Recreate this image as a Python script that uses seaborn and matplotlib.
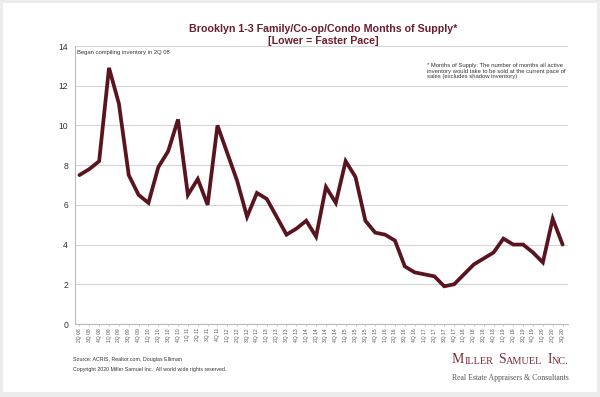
import matplotlib
matplotlib.use("Agg")
import matplotlib.pyplot as plt
import matplotlib.patches as mpatches
import seaborn as sns
import pandas as pd

# ─── data ───────────────────────────────────────────────────────────────────
quarters = [
    "2Q 08", "3Q 08", "4Q 08",
    "1Q 09", "2Q 09", "3Q 09", "4Q 09",
    "1Q 10", "2Q 10", "3Q 10", "4Q 10",
    "1Q 11", "2Q 11", "3Q 11", "4Q 11",
    "1Q 12", "2Q 12", "3Q 12", "4Q 12",
    "1Q 13", "2Q 13", "3Q 13", "4Q 13",
    "1Q 14", "2Q 14", "3Q 14", "4Q 14",
    "1Q 15", "2Q 15", "3Q 15", "4Q 15",
    "1Q 16", "2Q 16", "3Q 16", "4Q 16",
    "1Q 17", "2Q 17", "3Q 17", "4Q 17",
    "1Q 18", "2Q 18", "3Q 18", "4Q 18",
    "1Q 19", "2Q 19", "3Q 19", "4Q 19",
    "1Q 20", "2Q 20", "3Q 20",
]
months_supply = [
    7.5, 7.8, 8.2,
    12.9, 11.1, 7.5, 6.5,
    6.1, 7.9, 8.7, 10.3,
    6.5, 7.3, 6.0, 10.0,
    8.6, 7.2, 5.4, 6.6,
    6.3, 5.4, 4.5, 4.8,
    5.2, 4.4, 6.9, 6.1,
    8.2, 7.4, 5.2, 4.6,
    4.5, 4.2, 2.9, 2.6,
    2.5, 2.4, 1.9, 2.0,
    2.5, 3.0, 3.3, 3.6,
    4.3, 4.0, 4.0, 3.6,
    3.1, 5.3, 4.0,
]
y_ticks = [0, 2, 4, 6, 8, 10, 12, 14]

df = pd.DataFrame({"pos": range(len(quarters)), "supply": months_supply})

# ─── colours ────────────────────────────────────────────────────────────────
LINE_C = "#5A1420"
TITLE_C = "#6B1E2C"
LOGO_C = "#7A2A36"
GRID_C = "#D6D6D6"
TEXT_C = "#333333"
BORDER = "#ECECEC"

sns.set_style("white")
plt.rcParams["font.family"] = ["Liberation Sans", "DejaVu Sans"]

fig = plt.figure(figsize=(6, 3.97), dpi=100)
fig.patch.set_facecolor(BORDER)
fig.add_artist(mpatches.Rectangle((3 / 600, 1 - 392 / 397), 594 / 600, 389 / 397,
                                  transform=fig.transFigure, facecolor="white",
                                  edgecolor="none", zorder=0))

ax = fig.add_axes([75 / 600, 1 - 324 / 397, 493 / 600, 278 / 397])
ax.set_facecolor("white")

sns.lineplot(data=df, x="pos", y="supply", ax=ax, color=LINE_C, linewidth=2.7,
             solid_joinstyle="miter", zorder=3)

ax.set_xlim(-0.45, len(quarters) - 0.45)
ax.set_ylim(0, 14)
ax.set_yticks(y_ticks)
ax.set_xticks(range(len(quarters)))
ax.set_xticklabels(quarters, rotation=90, fontsize=3.6, color="#555555")
ax.tick_params(axis="y", labelsize=6.2, colors=TEXT_C, length=0, pad=5)
ax.tick_params(axis="x", length=1.5, width=0.4, color="#999999", pad=1.5, bottom=True)
ax.set_xlabel("")
ax.set_ylabel("")
ax.grid(axis="y", color=GRID_C, linewidth=0.8)
ax.set_axisbelow(True)
for side in ["top", "right"]:
    ax.spines[side].set_visible(False)
for side in ["left", "bottom"]:
    ax.spines[side].set_color("#BBBBBB")
    ax.spines[side].set_linewidth(0.8)

# annotations inside the plot
ax.text(0.004, 0.985, "Began compiling inventory in 2Q 08", transform=ax.transAxes,
        fontsize=4.2, color=TEXT_C, va="top", ha="left")
fig.text(427 / 600, 1 - 63 / 397,
         "* Months of Supply: The number of months all active\n"
         "inventory would take to be sold at the current pace of\n"
         "sales (excludes shadow inventory)",
         fontsize=4.25, color=TEXT_C, va="top", ha="left", linespacing=1.15)

# title
fig.text(323 / 600, 1 - 29 / 397, "Brooklyn 1-3 Family/Co-op/Condo Months of Supply*",
         fontsize=7.7, fontweight="bold", color=TITLE_C, ha="center", va="center")
fig.text(323 / 600, 1 - 41 / 397, "[Lower = Faster Pace]",
         fontsize=7.7, fontweight="bold", color=TITLE_C, ha="center", va="center")

# footer
fig.text(73 / 600, 1 - 360 / 397, "Source: ACRIS, Realtor.com, Douglas Elliman",
         fontsize=3.8, color=TEXT_C, va="center")
fig.text(73 / 600, 1 - 369.5 / 397,
         "Copyright 2020 Miller Samuel Inc.  All world wide rights reserved.",
         fontsize=3.8, color=TEXT_C, va="center")

# logo in small caps
serif = ["Liberation Serif", "DejaVu Serif"]
pieces = [("M", 10.0, 0), ("ILLER", 7.4, 0.3), ("S", 10.0, 3.2), ("AMUEL", 7.4, 0.3),
          ("I", 10.0, 3.2), ("NC.", 7.4, 0.3)]
prev = fig.text(452 / 600, 1 - 366 / 397, pieces[0][0], fontsize=pieces[0][1],
                color=LOGO_C, family=serif, va="bottom")
for txt, size, gap in pieces[1:]:
    prev = ax.annotate(txt, xy=(1, 0), xycoords=prev, xytext=(gap, 0),
                       textcoords="offset points", fontsize=size, color=LOGO_C,
                       family=serif, va="bottom", ha="left", annotation_clip=False)
fig.text(452 / 600, 1 - 380 / 397, "Real Estate Appraisers & Consultants",
         fontsize=5.6, color="#555555", family=serif, va="baseline")

fig.savefig("out.png", dpi=100, facecolor=BORDER)
